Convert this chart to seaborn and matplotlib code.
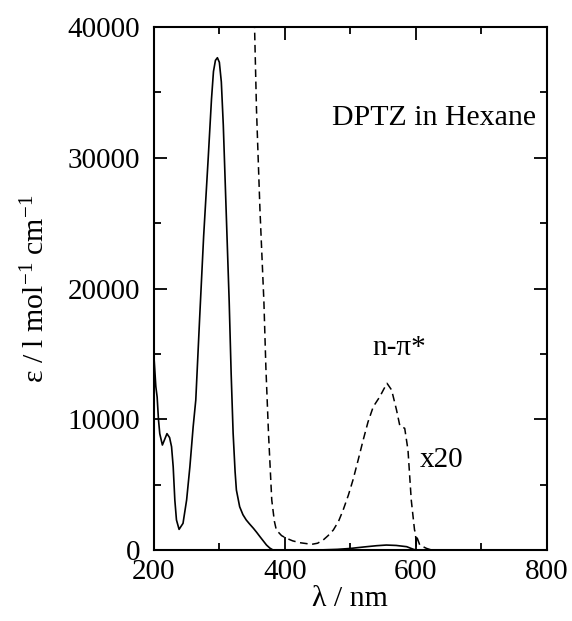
import matplotlib
matplotlib.use("Agg")
import matplotlib.pyplot as plt
from matplotlib.ticker import MultipleLocator
import seaborn as sns
import pandas as pd

# ---- data ----
wl_abs = [200, 203, 205, 207, 209, 213, 216, 220, 224, 227, 229.5, 232, 234.5, 238.5,
          244.5, 250, 255, 260, 264, 270, 276, 283, 288, 291, 294, 297, 300, 303, 306,
          310, 315, 318, 321, 324, 326, 331, 336, 341, 346, 352, 357, 362, 367, 372, 377,
          382, 400, 450, 480, 500, 520, 540, 555, 570, 586, 596, 600, 620]
eps_abs = [14900, 12500, 11700, 10000, 8900, 8030, 8400, 8900, 8600, 7900, 6370, 3825,
           2300, 1580, 2040, 3825, 6370, 9430, 11475, 17850, 24000, 30000, 34500, 36600,
           37450, 37650, 37300, 35800, 32500, 26500, 19000, 13500, 8950, 6000, 4590, 3310,
           2700, 2300, 2000, 1660, 1350, 1020, 700, 380, 150, 0, 0, 0, 50, 120, 230, 330,
           380, 350, 255, 60, 0, 0]

wl_x20 = [353.5, 356.7, 362, 368, 371, 375, 380, 384, 387, 395, 402.6, 412, 423, 441,
          450, 458.5, 466, 474, 482, 489, 497, 504, 512, 519.6, 527, 535, 545, 551, 556,
          563, 570.5, 575.6, 583, 588, 593, 598, 599.5, 600.5, 601, 606, 616, 624]
eps_x20 = [40500, 33660, 26000, 19000, 14000, 8950, 3825, 2200, 1530, 1100, 895, 700,
           560, 435, 520, 765, 1100, 1530, 2200, 3060, 4200, 5355, 6900, 8415, 9800,
           10960, 11730, 12300, 12750, 12240, 10710, 9490, 9310, 7650, 3825, 1530, 1300,
           200, 1070, 380, 130, 0]

x_ticks = [200, 400, 600, 800]
y_ticks = [0, 10000, 20000, 30000, 40000]

df_abs = pd.DataFrame({"wl": wl_abs, "eps": eps_abs})
df_x20 = pd.DataFrame({"wl": wl_x20, "eps": eps_x20})

sns.set_style("ticks")
plt.rcParams["font.family"] = ["Liberation Serif", "DejaVu Serif"]
plt.rcParams["mathtext.fontset"] = "custom"
plt.rcParams["mathtext.rm"] = "Liberation Serif"
plt.rcParams["mathtext.it"] = "Liberation Serif:italic"
plt.rcParams["text.color"] = "black"
plt.rcParams["axes.labelcolor"] = "black"

fs = 21
fig = plt.figure(figsize=(5.72, 6.21), dpi=100)
ax = fig.add_axes([0.269, 0.1143, 0.687, 0.8422])

sns.lineplot(data=df_abs, x="wl", y="eps", ax=ax, color="black", lw=1.2,
             estimator=None, sort=False)
sns.lineplot(data=df_x20, x="wl", y="eps", ax=ax, color="black", lw=1.1,
             estimator=None, sort=False, dashes=False)
ax.lines[1].set_dashes((5, 3))

ax.set_xlim(200, 800)
ax.set_ylim(0, 40000)
ax.set_xticks(x_ticks)
ax.set_yticks(y_ticks)
ax.xaxis.set_minor_locator(MultipleLocator(100))
ax.yaxis.set_minor_locator(MultipleLocator(5000))
ax.tick_params(which="both", direction="in", top=True, right=True, width=1.3,
               labelsize=fs, colors="black")
ax.tick_params(which="major", length=9.5)
ax.tick_params(which="minor", length=5)
ax.tick_params(axis="y", pad=10)
ax.tick_params(axis="x", pad=6.5)
for s in ax.spines.values():
    s.set_linewidth(1.5)
    s.set_color("black")
    s.set_visible(True)

ax.set_xlabel("λ / nm", fontsize=21.5, labelpad=1, color="black")
ax.set_ylabel(r"ε / l mol$^{\mathrm{-1}}$ cm$^{\mathrm{-1}}$", fontsize=21.5,
              labelpad=12, color="black")

ax.text(472, 32500, "DPTZ in Hexane", fontsize=21.5, ha="left", va="baseline", color="black")
ax.text(534, 14900, "n-π*", fontsize=fs, ha="left", va="baseline", color="black")
ax.text(606, 6350, "x20", fontsize=fs, ha="left", va="baseline", color="black")

fig.savefig("out.png", dpi=100, facecolor="white")
